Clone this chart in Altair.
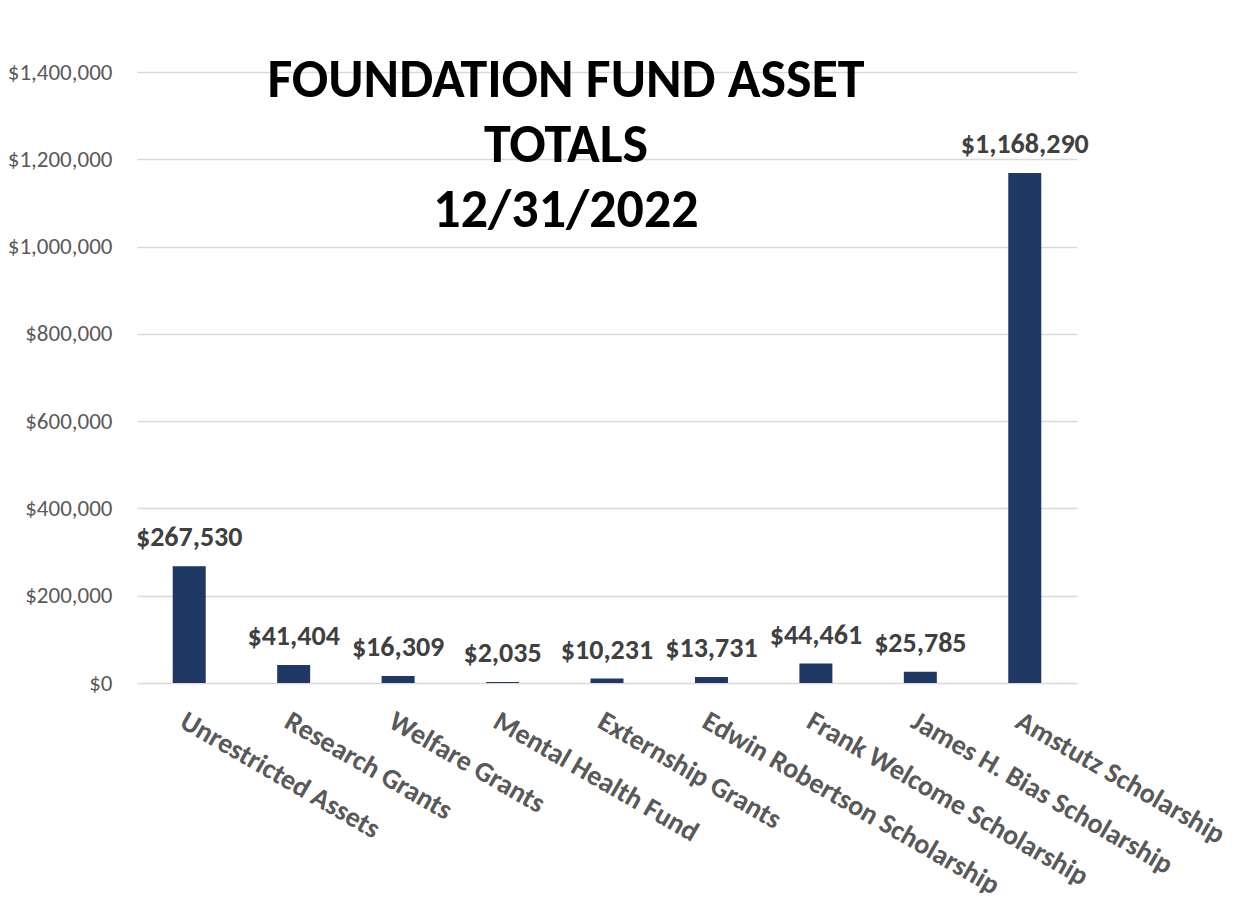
import altair as alt
import pandas as pd

categories = [
    "Unrestricted Assets",
    "Research Grants",
    "Welfare Grants",
    "Mental Health Fund",
    "Externship Grants",
    "Edwin Robertson Scholarship",
    "Frank Welcome Scholarship",
    "James H. Bias Scholarship",
    "Amstutz Scholarship",
]
values = [267530, 41404, 16309, 2035, 10231, 13731, 44461, 25785, 1168290]
y_ticks = [0, 200000, 400000, 600000, 800000, 1000000, 1200000, 1400000]
title_lines = ["FOUNDATION FUND ASSET", "TOTALS", "12/31/2022"]

df = pd.DataFrame({"category": categories, "value": values})

FONT = "Carlito"

x_enc = alt.X(
    "category:N",
    sort=categories,
    title=None,
    scale=alt.Scale(paddingInner=0.684, paddingOuter=0.342),
    axis=alt.Axis(
        labelAngle=30,
        labelAlign="left",
        labelBaseline="top",
        labelPadding=24,
        labelFont=FONT,
        labelFontSize=28,
        labelFontWeight="bold",
        labelColor="#595959",
        labelLimit=0,
        ticks=False,
        tickSize=0,
        domain=False,
        grid=False,
    ),
)
y_enc = alt.Y(
    "value:Q",
    title=None,
    scale=alt.Scale(domain=[0, 1400000], nice=False),
    axis=alt.Axis(
        values=y_ticks,
        format="$,.0f",
        labelFont=FONT,
        labelFontSize=23,
        labelColor="#595959",
        labelPadding=25,
        ticks=False,
        tickSize=0,
        domain=False,
        grid=True,
        gridColor="#d9d9d9",
        gridWidth=1.5,
    ),
)

bars = alt.Chart(df).mark_bar(color="#203864").encode(x=x_enc, y=y_enc)
labels = alt.Chart(df).mark_text(
    font=FONT,
    fontSize=28,
    fontWeight="bold",
    color="#404040",
    baseline="alphabetic",
    dy=-20,
).encode(
    x=alt.X("category:N", sort=categories),
    y=alt.Y("value:Q"),
    text=alt.Text("value:Q", format="$,.0f"),
)

chart = (
    alt.layer(bars, labels)
    .properties(
        width=940,
        height=611,
        padding={"left": 129, "top": 64, "right": 160, "bottom": 210},
        autosize=alt.AutoSizeParams(type="none"),
        title=alt.TitleParams(
            text=title_lines,
            font=FONT,
            fontSize=54,
            fontWeight="bold",
            color="#000000",
            anchor="middle",
            frame="group",
            baseline="top",
            dx=-41,
            offset=-177,
            lineHeight=65,
        ),
    )
    .configure(background="white")
    .configure_view(strokeWidth=0, stroke="transparent")
)

chart.save("out.html", embed_options={"renderer": "svg", "actions": False})
